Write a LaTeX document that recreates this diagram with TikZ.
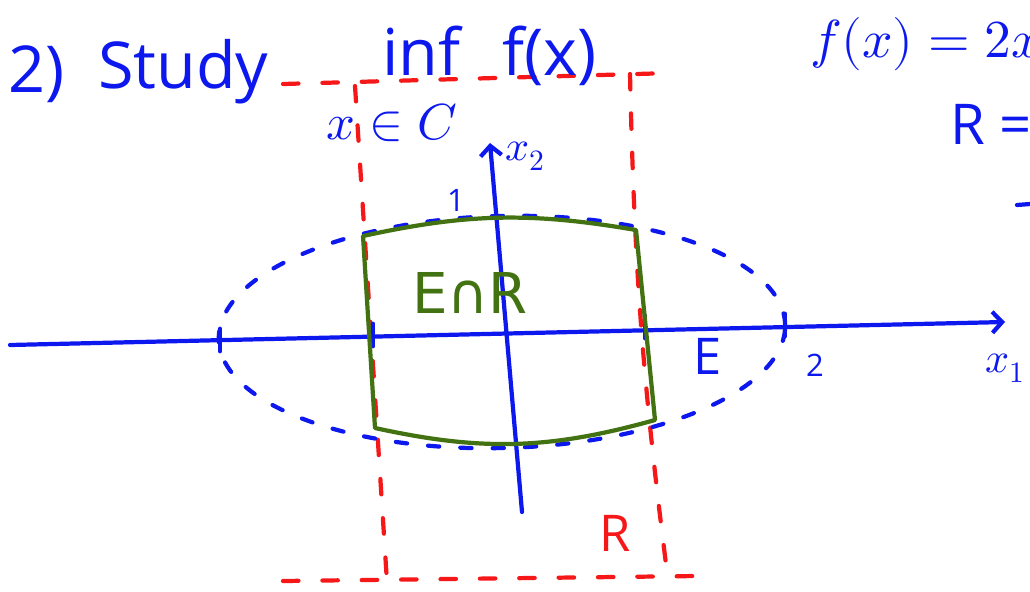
\documentclass[tikz,border=0pt]{standalone}
\usepackage{fontspec}
\usepackage{unicode-math}
\setmainfont{Open Sans}
\setmathfont{Latin Modern Math}
\newfontfamily\capfont{DejaVu Sans}
\usetikzlibrary{arrows.meta}
\definecolor{penblue}{RGB}{12,24,238}
\definecolor{penred}{RGB}{246,24,24}
\definecolor{pengreen}{RGB}{66,114,18}
\begin{document}
\begin{tikzpicture}[
    x=0.025cm, y=-0.025cm,
    every node/.style={inner sep=0pt, text=penblue},
    pen/.style={line width=3pt, line cap=round, line join=round},
    axis/.style={pen, draw=penblue, -{Straight Barb[length=7pt, width=15pt]}},
    ell/.style={pen, draw=penblue, dash pattern=on 8pt off 15pt},
    boxline/.style={pen, draw=penred, dash pattern=on 11pt off 17pt},
    region/.style={pen, draw=pengreen},
    tick/.style={pen, draw=penblue, line width=3.5pt},
    big/.style={font=\fontsize{46}{50}\selectfont},
    mid/.style={font=\fontsize{36}{40}\selectfont},
    small/.style={font=\fontsize{22}{24}\selectfont}
]
    \useasboundingbox (0,0) rectangle (1030,591);
    % rectangle R (red, dashed)
    \coordinate (r1) at (283,84);  \coordinate (r2) at (672,73);
    \coordinate (r3) at (355,86);  \coordinate (r4) at (387,582);
    \coordinate (r5) at (630,74);  \coordinate (r6) at (668,580);
    \coordinate (r7) at (283,581); \coordinate (r8) at (697,576);
    \draw[boxline] (r1) -- (r2);
    \draw[boxline] (r3) -- (r4);
    \draw[boxline] (r5) to[bend right=3] (r6);
    \draw[boxline] (r7) -- (r8);
    % ellipse E
    \coordinate (c) at (502,332);
    \draw[ell, rotate around={1.5:(c)}] (c) ellipse [x radius=7.08cm, y radius=2.9cm];
    % axes
    \coordinate (o1) at (10,345);  \coordinate (e1) at (1005,322);
    \coordinate (o2) at (522,512); \coordinate (e2) at (490,143);
    \draw[axis] (o1) -- (e1);
    \draw[axis] (o2) -- (e2);
    % ticks
    \coordinate (t1) at (220,340); \coordinate (t2) at (785,325);
    \coordinate (t3) at (373,335); \coordinate (t4) at (645,327);
    \foreach \t in {t1,t2,t3,t4}
        \draw[tick] (\t) ++(0,-11) -- ++(0,22);
    % E cap R
    \coordinate (g1) at (363,236); \coordinate (g2) at (636,230);
    \coordinate (g3) at (655,420); \coordinate (g4) at (375,428);
    \draw[region] (g1) to[bend left=11] (g2) -- (g3) to[bend left=14] (g4) -- cycle;
    % labels
    \node[big, anchor=base west] (two) at (8,92) {2)};
    \node[big, anchor=base west] (study) at (98,88) {Study};
    \node[big, anchor=base west] (inf) at (382,76) {inf};
    \node[big, anchor=base west] (fx) at (502,76) {f(x)};
    \node[mid, anchor=base west] (cond) at (326,139) {$x\in C$};
    \node[anchor=base west, font=\fontsize{30}{32}\selectfont] (lx2) at (505,160) {$x_2$};
    \node[anchor=base west, font=\fontsize{30}{32}\selectfont] (lx1) at (985,372) {$x_1$};
    \node[small] (one) at (456,200) {1};
    \node[small] (two2) at (815,365) {2};
    \node[mid] (lE) at (708,356) {E};
    \node[font=\capfont\fontsize{40}{44}\selectfont, text=pengreen] (lER) at (470,293) {E∩R};
    \node[mid, text=penred] (lR) at (615,533) {R};
    \node[anchor=base west, font=\fontsize{38}{42}\selectfont] (fdef) at (810,58) {$f(x)=2x^2$};
    \node[anchor=base west, font=\fontsize{40}{44}\selectfont] (Rdef) at (950,144) {R =};
    \coordinate (d1) at (1017,205); \coordinate (d2) at (1030,204);
    \draw[pen, draw=penblue] (d1) -- (d2);
\end{tikzpicture}
\end{document}
